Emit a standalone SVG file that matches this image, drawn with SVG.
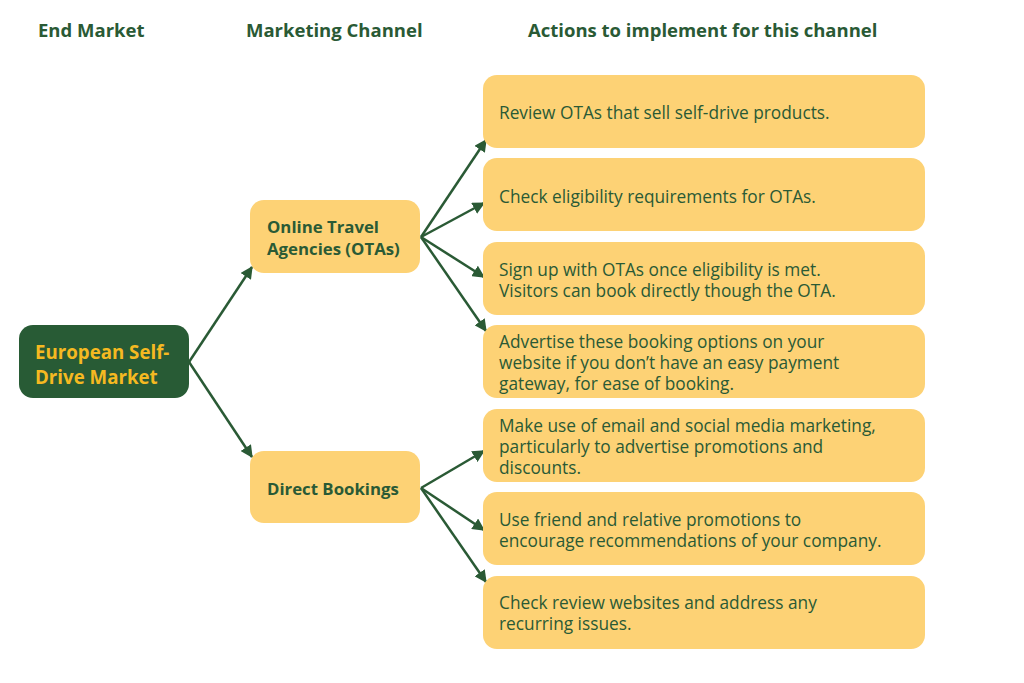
<svg xmlns="http://www.w3.org/2000/svg" width="1024" height="683" viewBox="0 0 1024 683">
<style>
.hdr{font-family:"Open Sans",sans-serif;font-weight:700;font-size:18.5px;fill:#2A5A35}
.act{fill:#FDD275}
.ch{fill:#FDD275}
.chT{font-family:"Open Sans",sans-serif;font-weight:700;font-size:16.8px;fill:#2A5A35}
.mkT{font-family:"Open Sans",sans-serif;font-weight:700;font-size:18.7px;fill:#F5B921}
.actT{font-family:"Open Sans",sans-serif;font-size:17.3px;fill:#2A5A35}
.con{stroke:#2A5A35;stroke-width:2.5;fill:none;marker-end:url(#ah)}
</style>
<defs>
<marker id="ah" viewBox="0 0 10 10" refX="9" refY="5" markerWidth="5" markerHeight="5" orient="auto" markerUnits="strokeWidth">
<path d="M0,0 L10,5 L0,10 z" fill="#2A5A35"/>
</marker>
</defs>
<rect width="1024" height="683" fill="#fff"/>
<g id="headers">
<text class="hdr" x="38" y="37">End Market</text>
<text class="hdr" x="246" y="37">Marketing Channel</text>
<text class="hdr" x="528" y="37">Actions to implement for this channel</text>
</g>
<g id="connectors">
<line class="con" x1="189" y1="362" x2="252" y2="267"/>
<line class="con" x1="189" y1="362" x2="252" y2="457"/>
<line class="con" x1="421" y1="237" x2="486" y2="140"/>
<line class="con" x1="421" y1="237" x2="484" y2="203"/>
<line class="con" x1="421" y1="237" x2="484" y2="277"/>
<line class="con" x1="421" y1="237" x2="486" y2="331"/>
<line class="con" x1="421" y1="488" x2="484" y2="451"/>
<line class="con" x1="421" y1="488" x2="484" y2="530"/>
<line class="con" x1="421" y1="488" x2="486" y2="582"/>
</g>
<g id="market">
<rect x="19" y="325" width="170" height="73" rx="14" fill="#285B35"/>
<text class="mkT" x="35" y="359">European Self-</text>
<text class="mkT" x="35" y="384">Drive Market</text>
</g>
<g id="ota">
<rect class="ch" x="250" y="200" width="170" height="73" rx="14"/>
<text class="chT" x="267" y="233">Online Travel</text>
<text class="chT" x="267" y="255">Agencies (OTAs)</text>
</g>
<g id="direct">
<rect class="ch" x="250" y="451" width="170" height="72" rx="14"/>
<text class="chT" x="267" y="495">Direct Bookings</text>
</g>
<g id="a1">
<rect class="act" x="483" y="75" width="442" height="73" rx="14"/>
<text class="actT" x="499" y="119">Review OTAs that sell self-drive products.</text>
</g>
<g id="a2">
<rect class="act" x="483" y="158" width="442" height="73" rx="14"/>
<text class="actT" x="499" y="203">Check eligibility requirements for OTAs.</text>
</g>
<g id="a3">
<rect class="act" x="483" y="242" width="442" height="73" rx="14"/>
<text class="actT" x="499" y="276">Sign up with OTAs once eligibility is met.</text>
<text class="actT" x="499" y="297">Visitors can book directly though the OTA.</text>
</g>
<g id="a4">
<rect class="act" x="483" y="325" width="442" height="73" rx="14"/>
<text class="actT" x="499" y="348">Advertise these booking options on your</text>
<text class="actT" x="499" y="369">website if you don’t have an easy payment</text>
<text class="actT" x="499" y="390">gateway, for ease of booking.</text>
</g>
<g id="a5">
<rect class="act" x="483" y="409" width="442" height="73" rx="14"/>
<text class="actT" x="499" y="432">Make use of email and social media marketing,</text>
<text class="actT" x="499" y="453">particularly to advertise promotions and</text>
<text class="actT" x="499" y="474">discounts.</text>
</g>
<g id="a6">
<rect class="act" x="483" y="492" width="442" height="73" rx="14"/>
<text class="actT" x="499" y="526">Use friend and relative promotions to</text>
<text class="actT" x="499" y="547">encourage recommendations of your company.</text>
</g>
<g id="a7">
<rect class="act" x="483" y="576" width="442" height="73" rx="14"/>
<text class="actT" x="499" y="609">Check review websites and address any</text>
<text class="actT" x="499" y="630">recurring issues.</text>
</g>
</svg>
